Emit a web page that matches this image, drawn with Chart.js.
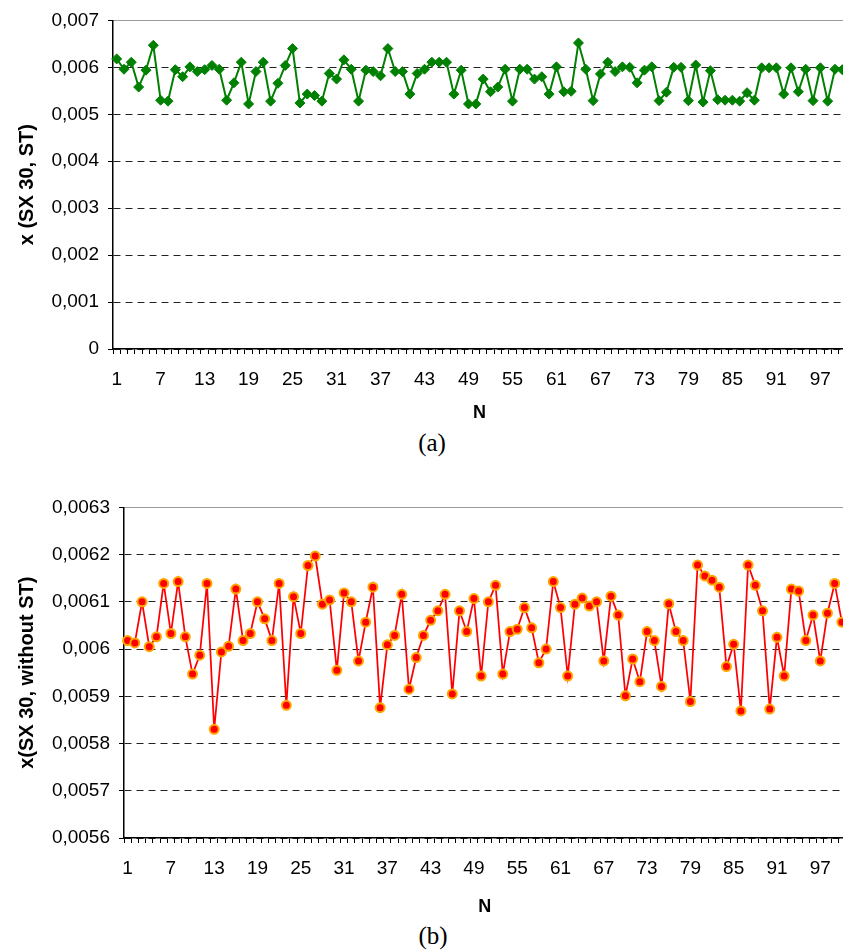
<!DOCTYPE html>
<html>
<head>
<meta charset="utf-8">
<script src="https://cdn.jsdelivr.net/npm/chart.js@4/dist/chart.umd.min.js"></script>
<style>
  html, body { margin: 0; padding: 0; background: #fff; overflow: hidden; width: 843px; height: 951px; }
  canvas { position: absolute; left: 0; }
  #chartA { top: 0; }
  #chartB { top: 487px; }
  .cap { position: absolute; width: 100px; text-align: center; line-height: 1;
         font-family: 'Liberation Serif', 'Times New Roman', serif; font-size: 25px; color: #000; }
</style>
</head>
<body>
<canvas id="chartA" width="852" height="424"></canvas>
<div class="cap" style="left:382px; top:430px;">(a)</div>
<canvas id="chartB" width="852" height="431"></canvas>
<div class="cap" style="left:383px; top:923px;">(b)</div>

<script>
const FONT = "'Liberation Sans', Arial, sans-serif";

// categories N = 1..100
const N = Array.from({ length: 100 }, (_, i) => String(i + 1));
const shownN = ['1', '7', '13', '19', '25', '31', '37', '43', '49', '55', '61', '67', '73', '79', '85', '91', '97'];

// (a) x (SX 30, ST)
const xST = [
  0.00618, 0.00596, 0.00611, 0.00558, 0.00594, 0.00647, 0.00530, 0.00528, 0.00595, 0.00580,
  0.00601, 0.00591, 0.00595, 0.00604, 0.00596, 0.00530, 0.00567, 0.00611, 0.00522, 0.00591,
  0.00611, 0.00528, 0.00566, 0.00604, 0.00640, 0.00524, 0.00543, 0.00540, 0.00528, 0.00587,
  0.00575, 0.00616, 0.00596, 0.00528, 0.00594, 0.00591, 0.00582, 0.00640, 0.00591, 0.00591,
  0.00543, 0.00587, 0.00596, 0.00611, 0.00611, 0.00611, 0.00543, 0.00594, 0.00522, 0.00522,
  0.00575, 0.00548, 0.00558, 0.00596, 0.00528, 0.00596, 0.00596, 0.00575, 0.00580, 0.00543,
  0.00601, 0.00548, 0.00549, 0.00652, 0.00596, 0.00529, 0.00586, 0.00611, 0.00591, 0.00601,
  0.00600, 0.00567, 0.00594, 0.00601, 0.00529, 0.00547, 0.00600, 0.00600, 0.00529, 0.00605,
  0.00526, 0.00593, 0.00531, 0.00530, 0.00530, 0.00528, 0.00546, 0.00530, 0.00599, 0.00599,
  0.00599, 0.00543, 0.00599, 0.00548, 0.00596, 0.00529, 0.00599, 0.00528, 0.00596, 0.00595
];

// (b) x(SX 30, without ST)
const xNoST = [
  0.006018, 0.006013, 0.006100, 0.006005, 0.006026, 0.006139, 0.006033, 0.006143, 0.006026, 0.005947,
  0.005987, 0.006139, 0.005830, 0.005994, 0.006006, 0.006127, 0.006018, 0.006033, 0.006100, 0.006064,
  0.006018, 0.006139, 0.005881, 0.006111, 0.006033, 0.006177, 0.006197, 0.006095, 0.006104, 0.005955,
  0.006119, 0.006100, 0.005975, 0.006057, 0.006131, 0.005876, 0.006009, 0.006029, 0.006116, 0.005915,
  0.005982, 0.006029, 0.006061, 0.006081, 0.006116, 0.005905, 0.006081, 0.006037, 0.006107, 0.005943,
  0.006100, 0.006135, 0.005947, 0.006037, 0.006042, 0.006088, 0.006045, 0.005971, 0.006000, 0.006143,
  0.006088, 0.005943, 0.006095, 0.006108, 0.006091, 0.006100, 0.005975, 0.006112, 0.006072, 0.005901,
  0.005979, 0.005931, 0.006037, 0.006018, 0.005921, 0.006096, 0.006037, 0.006018, 0.005889, 0.006178,
  0.006155, 0.006146, 0.006131, 0.005963, 0.006010, 0.005869, 0.006178, 0.006135, 0.006081, 0.005873,
  0.006025, 0.005943, 0.006127, 0.006123, 0.006018, 0.006072, 0.005975, 0.006076, 0.006139, 0.006057
];

// y axis ranges
const yA = { min: 0, max: 0.007, step: 0.001 };
const yB = { min: 0.0056, max: 0.0063, step: 0.0001 };

function fmt(v) {
  return Number(v.toFixed(5)).toString().replace('.', ',');
}

function buildOptions(range, yTitle, yWidth, xHeight, pad) {
  return {
    responsive: false,
    animation: false,
    layout: { padding: pad },
    plugins: { legend: { display: false }, tooltip: { enabled: false } },
    scales: {
      x: {
        type: 'category',
        offset: true,
        grid: { offset: true, drawOnChartArea: false, tickLength: 5, color: '#000', tickBorderDash: [] },
        border: { color: '#000', width: 1.5 },
        ticks: {
          autoSkip: false, maxRotation: 0, minRotation: 0, padding: 14, color: '#000',
          font: { family: FONT, size: 19 },
          callback: (v, i) => shownN.includes(N[i]) ? N[i] : ''
        },
        title: {
          display: true, text: 'N', color: '#000',
          font: { family: FONT, size: 18, weight: 'bold' },
          padding: { top: 0, bottom: 0 }
        },
        afterFit: s => { s.height = xHeight; s.paddingLeft = 0; s.paddingRight = 0; }
      },
      x2: {
        type: 'category',
        position: 'top',
        offset: true,
        grid: { display: false, drawTicks: false },
        ticks: { display: false },
        border: { color: '#9a9a9a', width: 1 },
        afterFit: s => { s.height = 0; s.paddingLeft = 0; s.paddingRight = 0; }
      },
      y: {
        min: range.min,
        max: range.max,
        ticks: {
          stepSize: range.step, color: '#000', padding: 9,
          font: { family: FONT, size: 19 },
          callback: v => fmt(v)
        },
        grid: {
          color: c => (c.tick && Math.abs(c.tick.value - range.max) < 1e-9) ? 'rgba(0,0,0,0)' : '#222',
          tickColor: '#000', tickLength: 5, tickBorderDash: [], lineWidth: 1
        },
        border: { color: '#000', width: 1.5, dash: [7, 5] },
        title: {
          display: true, text: yTitle, color: '#000',
          font: { family: FONT, size: 20, weight: 'bold' },
          padding: { top: 0, bottom: 0 }
        },
        afterFit: s => { s.width = yWidth; }
      }
    }
  };
}

new Chart(document.getElementById('chartA'), {
  type: 'line',
  data: {
    labels: N,
    datasets: [{
      data: xST,
      borderColor: '#008000',
      backgroundColor: '#008000',
      borderWidth: 2,
      tension: 0,
      pointStyle: 'rectRot',
      pointRadius: 5,
      pointBorderWidth: 1,
      pointBorderColor: '#008000',
      pointBackgroundColor: '#008000'
    }]
  },
  options: buildOptions(yA, 'x (SX 30, ST)', 98, 75, { left: 15, top: 19, right: 2, bottom: 0 })
});

new Chart(document.getElementById('chartB'), {
  type: 'line',
  data: {
    labels: N,
    datasets: [{
      data: xNoST,
      borderColor: '#ff0000',
      backgroundColor: '#ff0000',
      borderWidth: 1.75,
      tension: 0,
      pointStyle: 'circle',
      pointRadius: 4.5,
      pointBorderWidth: 2,
      pointBorderColor: '#ffa500',
      pointBackgroundColor: '#ff0000'
    }]
  },
  options: buildOptions(yB, 'x(SX 30, without ST)', 109, 80, { left: 15, top: 20, right: 1, bottom: 0 })
});
</script>
</body>
</html>
